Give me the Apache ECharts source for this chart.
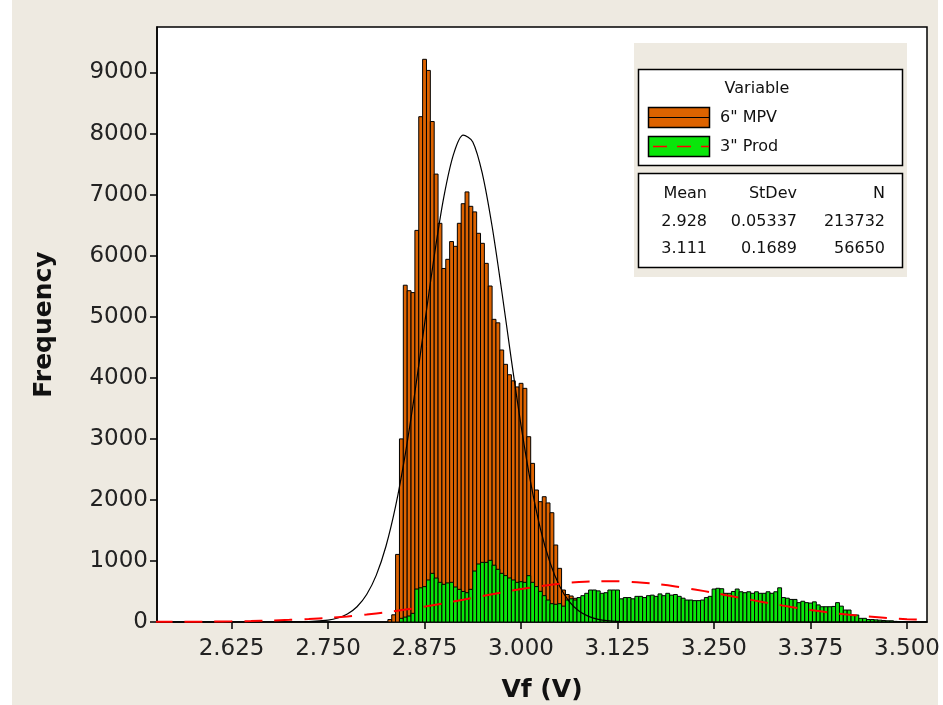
<!DOCTYPE html>
<html>
<head>
<meta charset="utf-8">
<title>Vf histogram</title>
<script src="https://cdn.jsdelivr.net/npm/echarts@6/dist/echarts.min.js"></script>
<style>
  html, body { margin: 0; padding: 0; background: #fff; }
  #bg { position: absolute; left: 12px; top: 0; width: 926px; height: 705px; background: #eeeae1; }
  #chart { position: absolute; left: 0; top: 0; width: 943px; height: 705px; }
</style>
</head>
<body>
<div id="bg"></div>
<div id="chart"></div>
<script>
// bin midpoints (V) and counts, bin width 0.005 V
const mpvBins = [2.830, 2.835, 2.840, 2.845, 2.850, 2.855, 2.860, 2.865, 2.870, 2.875,
  2.880, 2.885, 2.890, 2.895, 2.900, 2.905, 2.910, 2.915, 2.920, 2.925,
  2.930, 2.935, 2.940, 2.945, 2.950, 2.955, 2.960, 2.965, 2.970, 2.975,
  2.980, 2.985, 2.990, 2.995, 3.000, 3.005, 3.010, 3.015, 3.020, 3.025,
  3.030, 3.035, 3.040, 3.045, 3.050, 3.055, 3.060, 3.065, 3.070, 3.075,
  3.080, 3.085, 3.090, 3.095]
const mpvCounts = [40, 118, 1107, 2999, 5516, 5426, 5395, 6414, 8276, 9216,
  9034, 8197, 7336, 6530, 5790, 5940, 6231, 6153, 6530, 6851,
  7044, 6808, 6717, 6366, 6202, 5874, 5503, 4957, 4900, 4455,
  4220, 4050, 3950, 3850, 3909, 3827, 3035, 2598, 2162, 1971,
  2052, 1950, 1790, 1261, 879, 524, 450, 426, 388, 280,
  180, 100, 50, 20]

const prodBins = [2.845, 2.850, 2.855, 2.860, 2.865, 2.870, 2.875, 2.880, 2.885, 2.890,
  2.895, 2.900, 2.905, 2.910, 2.915, 2.920, 2.925, 2.930, 2.935, 2.940,
  2.945, 2.950, 2.955, 2.960, 2.965, 2.970, 2.975, 2.980, 2.985, 2.990,
  2.995, 3.000, 3.005, 3.010, 3.015, 3.020, 3.025, 3.030, 3.035, 3.040,
  3.045, 3.050, 3.055, 3.060, 3.065, 3.070, 3.075, 3.080, 3.085, 3.090,
  3.095, 3.100, 3.105, 3.110, 3.115, 3.120, 3.125, 3.130, 3.135, 3.140,
  3.145, 3.150, 3.155, 3.160, 3.165, 3.170, 3.175, 3.180, 3.185, 3.190,
  3.195, 3.200, 3.205, 3.210, 3.215, 3.220, 3.225, 3.230, 3.235, 3.240,
  3.245, 3.250, 3.255, 3.260, 3.265, 3.270, 3.275, 3.280, 3.285, 3.290,
  3.295, 3.300, 3.305, 3.310, 3.315, 3.320, 3.325, 3.330, 3.335, 3.340,
  3.345, 3.350, 3.355, 3.360, 3.365, 3.370, 3.375, 3.380, 3.385, 3.390,
  3.395, 3.400, 3.405, 3.410, 3.415, 3.420, 3.425, 3.430, 3.435, 3.440,
  3.445, 3.450, 3.455, 3.460, 3.465, 3.470, 3.475, 3.480, 3.485, 3.490,
  3.495]
const prodCounts = [60, 80, 98, 142, 540, 560, 579, 688, 797, 720,
  650, 617, 640, 650, 573, 535, 500, 480, 535, 835,
  950, 977, 977, 1010, 930, 863, 797, 760, 721, 688,
  650, 660, 650, 759, 650, 580, 502, 431, 360, 300,
  290, 300, 260, 360, 380, 360, 400, 431, 470, 524,
  524, 510, 470, 480, 524, 524, 524, 380, 400, 400,
  380, 420, 420, 400, 431, 440, 420, 460, 431, 470,
  440, 450, 420, 390, 360, 360, 350, 350, 360, 400,
  420, 540, 552, 545, 470, 470, 500, 540, 495, 480,
  495, 470, 495, 470, 470, 495, 470, 495, 560, 400,
  390, 370, 370, 317, 340, 317, 310, 330, 280, 250,
  250, 250, 255, 317, 260, 196, 196, 115, 115, 60,
  60, 40, 40, 35, 30, 25, 20, 20, 10, 5,
  5]

// fitted normal curves
const mpvFitX = [2.53, 2.6, 2.65, 2.7, 2.725, 2.75, 2.7625, 2.775, 2.7875, 2.8,
  2.8125, 2.825, 2.8375, 2.85, 2.8625, 2.875, 2.8875, 2.9, 2.9125, 2.925,
  2.9375, 2.95, 2.9625, 2.975, 2.9875, 3.0, 3.0125, 3.025, 3.0375, 3.05,
  3.0625, 3.075, 3.0875, 3.1, 3.125, 3.15, 3.2, 3.3, 3.4, 3.525]
const mpvFitY = [0, 0, 0, 1, 6, 31, 65, 131, 250, 450,
  768, 1241, 1896, 2746, 3763, 4878, 5989, 6961, 7658, 7975,
  7863, 7337, 6482, 5421, 4290, 3215, 2281, 1531, 974, 586,
  334, 180, 92, 44, 9, 1, 0, 0, 0, 0]

const prodFitX = [2.525, 2.55, 2.575, 2.6, 2.625, 2.65, 2.675, 2.7, 2.725, 2.75,
  2.775, 2.8, 2.825, 2.85, 2.875, 2.9, 2.925, 2.95, 2.975, 3.0,
  3.025, 3.05, 3.075, 3.1, 3.125, 3.15, 3.175, 3.2, 3.225, 3.25,
  3.275, 3.3, 3.325, 3.35, 3.375, 3.4, 3.425, 3.45, 3.475, 3.5,
  3.525]
const prodFitY = [2, 3, 4, 7, 11, 16, 24, 35, 49, 68,
  92, 123, 160, 203, 252, 307, 365, 425, 484, 539,
  588, 627, 654, 668, 667, 651, 623, 582, 533, 477,
  418, 358, 300, 246, 197, 155, 119, 89, 66, 47,
  33]

const xTicks = [2.625, 2.75, 2.875, 3.0, 3.125, 3.25, 3.375, 3.5]
const yTicks = [0, 1000, 2000, 3000, 4000, 5000, 6000, 7000, 8000, 9000]

const statHead = ['Mean', 'StDev', 'N']
const statRows = [
  ['2.928', '0.05337', '213732'],
  ['3.111', '0.1689', '56650'],
]

const BIN_W = 0.005
const FONT = 'DejaVu Sans'
const BEIGE = '#eeeae1'
const ORANGE = '#dd6300'
const GREEN = '#0ae60a'

function histItem(color) {
  return function (params, api) {
    const mid = api.value(0)
    const n = api.value(1)
    const a = api.coord([mid - BIN_W / 2, n])
    const b = api.coord([mid + BIN_W / 2, 0])
    return {
      type: 'rect',
      shape: { x: a[0], y: a[1], width: b[0] - a[0], height: b[1] - a[1] },
      style: { fill: color, stroke: '#000', lineWidth: 1 },
    }
  }
}

function txt(x, y, s, align) {
  return {
    type: 'text', x: x, y: y, z: 102,
    style: { text: s, font: '16px "' + FONT + '"', fill: '#111', align: align || 'left', verticalAlign: 'middle' },
  }
}

const legendItems = [
  { type: 'rect', z: 100, shape: { x: 634, y: 43, width: 273, height: 234 }, style: { fill: BEIGE } },
  { type: 'rect', z: 101, shape: { x: 638.5, y: 69.5, width: 264, height: 96 }, style: { fill: '#fff', stroke: '#000', lineWidth: 1.5 } },
  { type: 'rect', z: 101, shape: { x: 638.5, y: 173.5, width: 264, height: 94 }, style: { fill: '#fff', stroke: '#000', lineWidth: 1.5 } },
  txt(757, 89, 'Variable', 'center'),
  { type: 'rect', z: 102, shape: { x: 648.5, y: 107.5, width: 61, height: 20 }, style: { fill: ORANGE, stroke: '#000', lineWidth: 1.5 } },
  { type: 'line', z: 103, shape: { x1: 648, y1: 117.5, x2: 710, y2: 117.5 }, style: { stroke: '#000', lineWidth: 1.2 } },
  txt(720, 118, '6" MPV'),
  { type: 'rect', z: 102, shape: { x: 648.5, y: 136.5, width: 61, height: 20 }, style: { fill: GREEN, stroke: '#000', lineWidth: 1.5 } },
  { type: 'line', z: 103, shape: { x1: 649, y1: 146.5, x2: 709, y2: 146.5 }, style: { stroke: '#f00', lineWidth: 1.5, lineDash: [14, 10], lineDashOffset: -4 } },
  txt(720, 147, '3" Prod'),
]
const colRight = [707, 797, 885]
const rowY = [194, 222, 249]
statHead.forEach((h, i) => legendItems.push(txt(colRight[i], rowY[0], h, 'right')))
statRows.forEach((r, j) => r.forEach((v, i) => legendItems.push(txt(colRight[i], rowY[j + 1], v, 'right'))))

const chart = echarts.init(document.getElementById('chart'))
chart.setOption({
  backgroundColor: 'transparent',
  animation: false,
  textStyle: { fontFamily: FONT },
  grid: {
    left: 157, right: 16, top: 27, bottom: 83,
    outerBoundsMode: 'none',
    show: true, backgroundColor: '#fff', borderColor: '#000', borderWidth: 1.5,
  },
  xAxis: {
    type: 'value',
    min: 2.5284,
    max: 3.5259,
    name: 'Vf (V)',
    nameLocation: 'middle',
    nameGap: 56,
    nameTextStyle: { fontSize: 25, fontWeight: 'bold', color: '#111', fontFamily: FONT },
    axisLine: { show: true, onZero: false, lineStyle: { color: '#000', width: 1.5 } },
    axisTick: { show: true, length: 7, customValues: xTicks, lineStyle: { color: '#000', width: 1.5 } },
    axisLabel: {
      customValues: xTicks, margin: 16, fontSize: 23, color: '#222', fontFamily: FONT,
      formatter: (v) => v.toFixed(3),
    },
    splitLine: { show: false },
  },
  yAxis: {
    type: 'value',
    min: 0,
    max: 9745,
    name: 'Frequency',
    nameLocation: 'middle',
    nameGap: 100,
    nameTextStyle: { fontSize: 25, fontWeight: 'bold', color: '#111', fontFamily: FONT },
    axisLine: { show: true, lineStyle: { color: '#000', width: 1.5 } },
    axisTick: { show: true, length: 7, customValues: yTicks, lineStyle: { color: '#000', width: 1.5 } },
    axisLabel: {
      customValues: yTicks, margin: 9, fontSize: 23, color: '#222', fontFamily: FONT,
      formatter: (v) => String(v),
    },
    splitLine: { show: false },
  },
  graphic: legendItems,
  series: [
    {
      name: '6" MPV',
      type: 'custom',
      renderItem: histItem(ORANGE),
      encode: { x: 0, y: 1 },
      clip: true,
      z: 2,
      data: mpvBins.map((b, i) => [b, mpvCounts[i]]),
    },
    {
      name: '3" Prod',
      type: 'custom',
      renderItem: histItem(GREEN),
      encode: { x: 0, y: 1 },
      clip: true,
      z: 3,
      data: prodBins.map((b, i) => [b, prodCounts[i]]),
    },
    {
      name: '6" MPV fit',
      type: 'line',
      z: 4,
      showSymbol: false,
      smooth: 0.3,
      clip: true,
      lineStyle: { color: '#000', width: 1.2 },
      data: mpvFitX.map((x, i) => [x, mpvFitY[i]]),
    },
    {
      name: '3" Prod fit',
      type: 'line',
      z: 5,
      showSymbol: false,
      smooth: 0.3,
      clip: true,
      lineStyle: { color: '#f00', width: 2, type: [18, 12] },
      data: prodFitX.map((x, i) => [x, prodFitY[i]]),
    },
  ],
})
</script>
</body>
</html>
